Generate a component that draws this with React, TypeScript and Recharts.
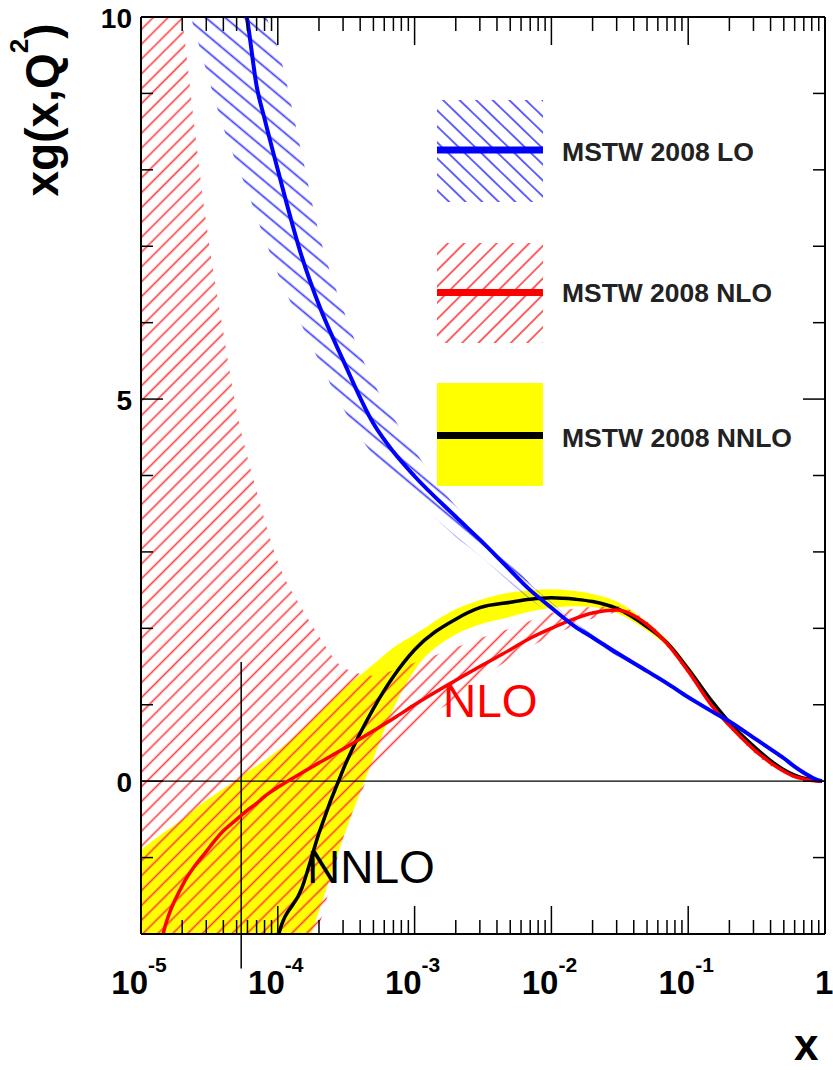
import React from 'react';
import { ComposedChart, Area, Line, XAxis, YAxis, ReferenceLine } from 'recharts';

// sample points along x (log spaced)
const xValues = [
  1e-5, 1.5e-5, 2e-5, 3e-5, 4e-5, 5e-5, 6e-5, 7e-5, 8e-5,
  1e-4, 1.5e-4, 2e-4, 3e-4, 5e-4, 7e-4,
  1e-3, 2e-3, 3e-3, 5e-3, 7e-3,
  1e-2, 1.5e-2, 2e-2, 3e-2, 5e-2, 7e-2,
  0.1, 0.15, 0.2, 0.3, 0.4, 0.5, 0.6, 0.7, 0.8, 0.9, 0.95,
];

// MSTW 2008 LO
const loCentral = [
  null, null, null, null, 11.6, 10.7, 9.95, 9.1, 8.67,
  8.0, 6.86, 6.23, 5.51, 4.68, 4.31,
  3.99, 3.46, 3.16, 2.76, 2.5,
  2.27, 2.02, 1.88, 1.68, 1.44, 1.28,
  1.1, 0.91, 0.78, 0.57, 0.42, 0.3, 0.19, 0.11, 0.05, 0.01, 0,
];
const loLow = [
  null, null, 10.4, 9.3, 8.55, 8.08, 7.72, 7.38, 7.1,
  6.64, 5.96, 5.5, 4.88, 4.26, 3.97,
  3.7, 3.2, 2.95, 2.6, 2.38,
  2.18, 1.96, 1.83, 1.64, 1.41, 1.25,
  1.07, 0.88, 0.75, 0.55, 0.4, 0.28, 0.18, 0.1, 0.04, 0.01, 0,
];
const loHigh = [
  null, null, 14, 13.5, 13, 12.2, 11.3, 10.6, 10.1,
  9.6, 8.2, 7.17, 6.18, 5.22, 4.76,
  4.33, 3.6, 3.3, 2.88, 2.58,
  2.34, 2.07, 1.92, 1.71, 1.47, 1.31,
  1.13, 0.94, 0.81, 0.59, 0.44, 0.32, 0.2, 0.12, 0.06, 0.02, 0,
];

// MSTW 2008 NLO
const nloCentral = [
  -3.6, -1.9, -1.37, -0.92, -0.65, -0.5, -0.38, -0.29, -0.2,
  -0.08, 0.11, 0.24, 0.42, 0.66, 0.82,
  1.0, 1.32, 1.5, 1.72, 1.87,
  2.0, 2.13, 2.2, 2.24, 2.05, 1.8,
  1.44, 0.98, 0.73, 0.42, 0.24, 0.13, 0.06, 0.03, 0.01, 0, 0,
];
const nloLow = [
  -3.5, -3.5, -3.5, -3.5, -3.5, -3.5, -3.5, -3.5, -3.5,
  -3.5, -2.5, -1.9, -0.75, 0.15, 0.45,
  0.72, 1.08, 1.33, 1.6, 1.76,
  1.9, 2.04, 2.13, 2.2, 2.01, 1.76,
  1.4, 0.95, 0.7, 0.38, 0.2, 0.11, 0.05, 0.02, 0, 0, 0,
];
const nloHigh = [
  14, 12, 10, 7.3, 5.87, 4.85, 4.24, 3.8, 3.42,
  2.87, 2.26, 1.9, 1.49, 1.38, 1.45,
  1.55, 1.75, 1.87, 2.0, 2.1,
  2.2, 2.26, 2.28, 2.29, 2.09, 1.84,
  1.48, 1.01, 0.75, 0.43, 0.24, 0.13, 0.07, 0.04, 0.02, 0.005, 0,
];

// MSTW 2008 NNLO
const nnloCentral = [
  null, null, null, null, null, null, null, null, -3.0,
  -2.05, -1.4, -0.68, 0.15, 0.95, 1.37,
  1.72, 2.12, 2.27, 2.34, 2.38,
  2.4, 2.38, 2.35, 2.26, 2.02, 1.81,
  1.47, 1.04, 0.77, 0.46, 0.27, 0.15, 0.08, 0.04, 0.02, 0.005, 0,
];
const nnloLow = [
  -3, -3, -3, -3, -3, -3, -3, -3, -3,
  -3, -2.35, -1.7, -0.75, 0.3, 0.95,
  1.45, 1.92, 2.05, 2.15, 2.22,
  2.27, 2.29, 2.28, 2.2, 1.97, 1.77,
  1.43, 1.01, 0.74, 0.44, 0.25, 0.14, 0.07, 0.03, 0.01, 0, 0,
];
const nnloHigh = [
  -0.9, -0.66, -0.5, -0.25, -0.1, 0.02, 0.12, 0.2, 0.27,
  0.4, 0.68, 0.9, 1.2, 1.53, 1.75,
  1.92, 2.25, 2.37, 2.47, 2.5,
  2.51, 2.49, 2.45, 2.35, 2.08, 1.85,
  1.51, 1.07, 0.8, 0.48, 0.29, 0.16, 0.09, 0.05, 0.03, 0.01, 0,
];

const xTicks = [
  1e-5, 2e-5, 3e-5, 4e-5, 5e-5, 6e-5, 7e-5, 8e-5, 9e-5,
  1e-4, 2e-4, 3e-4, 4e-4, 5e-4, 6e-4, 7e-4, 8e-4, 9e-4,
  1e-3, 2e-3, 3e-3, 4e-3, 5e-3, 6e-3, 7e-3, 8e-3, 9e-3,
  1e-2, 2e-2, 3e-2, 4e-2, 5e-2, 6e-2, 7e-2, 8e-2, 9e-2,
  0.1, 0.2, 0.3, 0.4, 0.5, 0.6, 0.7, 0.8, 0.9, 1,
];
const yTicks = [-2, -1, 0, 1, 2, 3, 4, 5, 6, 7, 8, 9, 10];
const yLabels = [0, 5, 10];

const legendItems = ['MSTW 2008 LO', 'MSTW 2008 NLO', 'MSTW 2008 NNLO'];

const data = xValues.map((x, i) => ({
  x,
  lo: loCentral[i],
  loBand: loLow[i] == null ? null : [loLow[i], loHigh[i]],
  nlo: nloCentral[i],
  nloBand: [nloLow[i], nloHigh[i]],
  nnlo: nnloCentral[i],
  nnloBand: [nnloLow[i], nnloHigh[i]],
}));

const FONT = "'Liberation Sans', Arial, Helvetica, sans-serif";
const PLOT_TOP = 17;
const PLOT_RIGHT = 825;
const BLUE_HATCH = '#3c3cff';
const RED_HATCH = '#ff3c3c';

const isDecade = (v: number) => Math.abs(Math.log10(v) - Math.round(Math.log10(v))) < 1e-6;

const XTick = (props: any) => {
  const { x, y, payload } = props;
  const v = payload.value;
  const major = isDecade(v);
  const len = major ? 28 : 14;
  const exp = Math.round(Math.log10(v));
  return (
    <g>
      <line x1={x} x2={x} y1={y} y2={y - len} stroke="#000" strokeWidth={1.5} />
      <line x1={x} x2={x} y1={PLOT_TOP} y2={PLOT_TOP + len} stroke="#000" strokeWidth={1.5} />
      {major && exp === 0 && (
        <text x={x - 10} y={y + 60} fontFamily={FONT} fontWeight="bold" fontSize={33} fill="#000">1</text>
      )}
      {major && exp !== 0 && (
        <text x={x - 2} y={y + 60} textAnchor="middle" fontFamily={FONT} fontWeight="bold" fontSize={33} fill="#000">
          10<tspan dy={-22} fontSize={21}>{exp}</tspan>
        </text>
      )}
    </g>
  );
};

const YTick = (props: any) => {
  const { x, y, payload } = props;
  const v = payload.value;
  const major = v % 5 === 0;
  const len = major ? 22 : 12;
  return (
    <g>
      <line x1={x} x2={x + len} y1={y} y2={y} stroke="#000" strokeWidth={1.5} />
      <line x1={PLOT_RIGHT} x2={PLOT_RIGHT - len} y1={y} y2={y} stroke="#000" strokeWidth={1.5} />
      {yLabels.includes(v) && (
        <text x={x - 9} y={y + 11} textAnchor="end" fontFamily={FONT} fontWeight="bold" fontSize={28} fill="#000">
          {v}
        </text>
      )}
    </g>
  );
};

const Overlay = () => (
  <svg width={833} height={1070} style={{ position: 'absolute', left: 0, top: 0, pointerEvents: 'none' }}>
    <defs>
      <pattern id="lgBlue" patternUnits="userSpaceOnUse" width={10} height={11.5} patternTransform="rotate(44)">
        <line x1={0} y1={5.75} x2={10} y2={5.75} stroke={BLUE_HATCH} strokeWidth={1.6} />
      </pattern>
      <pattern id="lgRed" patternUnits="userSpaceOnUse" width={10} height={11.5} patternTransform="rotate(-45)">
        <line x1={0} y1={5.75} x2={10} y2={5.75} stroke={RED_HATCH} strokeWidth={1.6} />
      </pattern>
    </defs>

    {/* legend */}
    <rect x={437} y={100} width={106} height={102} fill="url(#lgBlue)" />
    <line x1={437} x2={543} y1={150} y2={150} stroke="#0000ff" strokeWidth={7} />
    <rect x={437} y={243} width={106} height={100} fill="url(#lgRed)" />
    <line x1={437} x2={543} y1={292.5} y2={292.5} stroke="#ff0000" strokeWidth={7} />
    <rect x={437} y={383} width={106} height={103} fill="#ffff00" />
    <line x1={437} x2={543} y1={435.5} y2={435.5} stroke="#000" strokeWidth={7} />
    {legendItems.map((t, i) => (
      <text key={t} x={562} y={[161, 302, 447][i]} fontFamily={FONT} fontWeight="bold" fontSize={25}
        fill="#222" textLength={[192, 210, 230][i]} lengthAdjust="spacingAndGlyphs">
        {t}
      </text>
    ))}

    {/* annotations */}
    <text x={443} y={717} fontFamily={FONT} fontSize={46} fill="#ff0000">NLO</text>
    <text x={307} y={883} fontFamily={FONT} fontSize={46} fill="#000">NNLO</text>

    {/* axis titles */}
    <text transform="translate(58,110) rotate(-90)" textAnchor="middle" fontFamily={FONT} fontWeight="bold" fontSize={46} fill="#000">
      xg(x,Q<tspan dy={-30} fontSize={26}>2</tspan><tspan dy={30}>)</tspan>
    </text>
    <text x={794} y={1060} fontFamily={FONT} fontWeight="bold" fontSize={44} fill="#000">x</text>
  </svg>
);

export default function App() {
  return (
    <div style={{ position: 'absolute', left: 0, top: 0, width: 833, height: 1070, background: '#fff' }}>
      <ComposedChart width={833} height={1070} data={data} margin={{ top: 17, right: 8, bottom: 0, left: 0 }}>
        <defs>
          <pattern id="hatchLO" patternUnits="userSpaceOnUse" width={10} height={12.5} patternTransform="rotate(40)">
            <line x1={0} y1={6.25} x2={10} y2={6.25} stroke={BLUE_HATCH} strokeWidth={1.7} />
          </pattern>
          <pattern id="hatchNLO" patternUnits="userSpaceOnUse" width={10} height={10.5} patternTransform="rotate(-45)">
            <line x1={0} y1={5.25} x2={10} y2={5.25} stroke={RED_HATCH} strokeWidth={1.6} />
          </pattern>
        </defs>
        <XAxis
          dataKey="x"
          type="number"
          scale="log"
          domain={[1e-5, 1]}
          allowDataOverflow
          ticks={xTicks}
          interval={0}
          height={136}
          tickSize={0}
          tickMargin={0}
          tickLine={false}
          axisLine={{ stroke: '#000', strokeWidth: 2 }}
          tick={(p: any) => <XTick {...p} />}
        />
        <YAxis
          type="number"
          domain={[-2, 10]}
          allowDataOverflow
          ticks={yTicks}
          interval={0}
          width={141}
          tickSize={0}
          tickMargin={0}
          tickLine={false}
          axisLine={{ stroke: '#000', strokeWidth: 2 }}
          tick={(p: any) => <YTick {...p} />}
        />
        <ReferenceLine y={10} stroke="#000" strokeWidth={2} />
        <ReferenceLine x={1} stroke="#000" strokeWidth={2} />

        <Area dataKey="nnloBand" type="monotone" stroke="none" fill="#ffff00" fillOpacity={1} isAnimationActive={false} dot={false} activeDot={false} />
        <Area dataKey="nloBand" type="monotone" stroke="none" fill="url(#hatchNLO)" fillOpacity={1} isAnimationActive={false} dot={false} activeDot={false} />
        <Area dataKey="loBand" type="monotone" stroke="none" fill="url(#hatchLO)" fillOpacity={1} isAnimationActive={false} dot={false} activeDot={false} />

        <ReferenceLine y={0} stroke="#000" strokeWidth={1.3} />
        <ReferenceLine
          segment={[{ x: 5.4e-5, y: 1.56 }, { x: 5.4e-5, y: -2.45 }]}
          ifOverflow="visible"
          stroke="#000"
          strokeWidth={1.5}
        />

        <Line dataKey="nnlo" type="monotone" stroke="#000" strokeWidth={3.5} dot={false} activeDot={false} isAnimationActive={false} />
        <Line dataKey="nlo" type="monotone" stroke="#ff0000" strokeWidth={3.5} dot={false} activeDot={false} isAnimationActive={false} />
        <Line dataKey="lo" type="monotone" stroke="#0000ff" strokeWidth={4} dot={false} activeDot={false} isAnimationActive={false} />
      </ComposedChart>
      <Overlay />
    </div>
  );
}
